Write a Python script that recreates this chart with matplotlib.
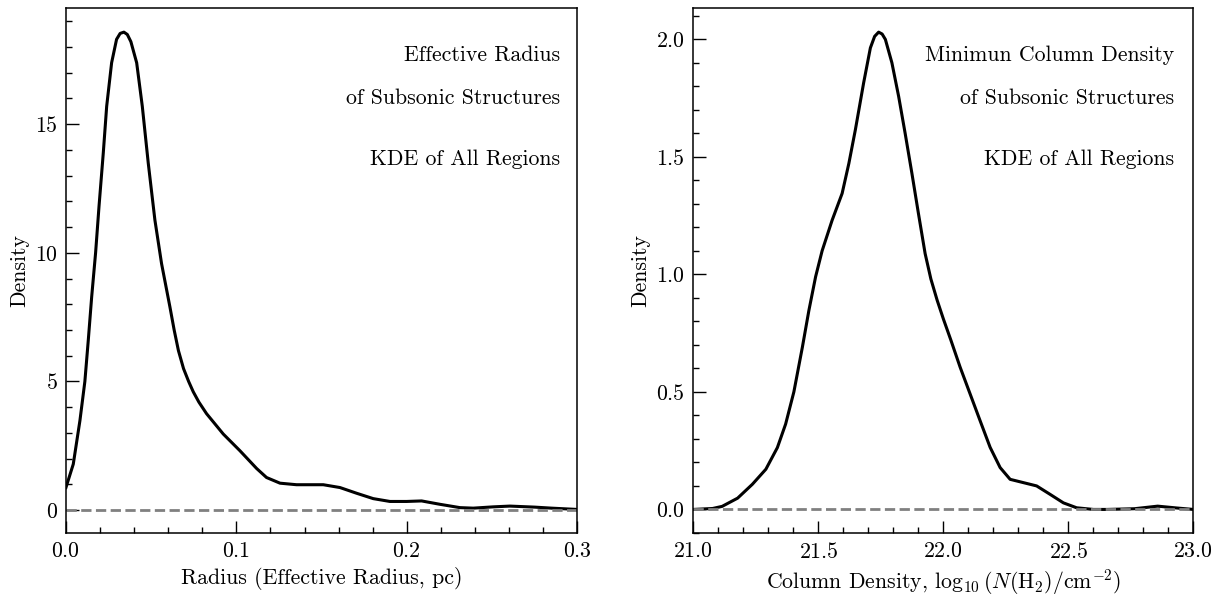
import matplotlib
matplotlib.use("Agg")
import matplotlib.pyplot as plt
from matplotlib.ticker import MultipleLocator

plt.rcParams["font.family"] = "serif"
plt.rcParams["font.serif"] = ["cmr10", "DejaVu Serif"]
plt.rcParams["mathtext.fontset"] = "cm"
plt.rcParams["axes.unicode_minus"] = False
plt.rcParams["axes.formatter.use_mathtext"] = True
plt.rcParams["font.size"] = 15.7

# KDE curve (effective radius, pc)
radius = [0.0, 0.0043, 0.0082, 0.0111, 0.0131, 0.0151, 0.0174, 0.0194, 0.0219, 0.0239,
          0.0268, 0.0297, 0.0318, 0.034, 0.036, 0.0381, 0.0415, 0.0448, 0.0483, 0.0522,
          0.0561, 0.061, 0.0635, 0.066, 0.069, 0.072, 0.0747, 0.078, 0.0825, 0.0923,
          0.1021, 0.1119, 0.1177, 0.1256, 0.1353, 0.151, 0.1608, 0.1705, 0.1803, 0.1901,
          0.1999, 0.2087, 0.2194, 0.2312, 0.239, 0.2507, 0.2605, 0.275, 0.285, 0.3]
radius_density = [0.88, 1.79, 3.48, 5.0, 6.6, 8.29, 10.0, 11.8, 13.87, 15.69,
                  17.38, 18.29, 18.52, 18.57, 18.48, 18.2, 17.38, 15.69, 13.48, 11.27,
                  9.58, 7.9, 7.0, 6.2, 5.5, 5.0, 4.6, 4.2, 3.75, 2.96,
                  2.31, 1.62, 1.27, 1.05, 0.99, 0.99, 0.88, 0.66, 0.45, 0.34,
                  0.34, 0.36, 0.23, 0.10, 0.08, 0.13, 0.16, 0.12, 0.08, 0.03]

# KDE curve (log10 column density)
coldens = [21.0, 21.077, 21.115, 21.177, 21.236, 21.29, 21.336, 21.369, 21.402, 21.436,
           21.462, 21.489, 21.515, 21.555, 21.595, 21.622, 21.648, 21.681, 21.708, 21.725,
           21.741, 21.755, 21.768, 21.794, 21.821, 21.847, 21.874, 21.9, 21.927, 21.95,
           21.975, 22.0, 22.03, 22.067, 22.107, 22.147, 22.187, 22.227, 22.267, 22.32,
           22.373, 22.427, 22.48, 22.533, 22.6, 22.655, 22.764, 22.857, 22.935, 23.0]
coldens_density = [0.0, 0.004, 0.013, 0.048, 0.107, 0.171, 0.263, 0.363, 0.5, 0.69,
                   0.846, 0.99, 1.1, 1.23, 1.344, 1.472, 1.615, 1.814, 1.963, 2.012,
                   2.03, 2.022, 1.999, 1.9, 1.757, 1.6, 1.43, 1.26, 1.088, 0.98,
                   0.89, 0.81, 0.72, 0.605, 0.491, 0.377, 0.264, 0.178, 0.128, 0.114,
                   0.1, 0.064, 0.028, 0.007, 0.0, 0.0, 0.003, 0.014, 0.006, 0.0]

labels_left = ["Effective Radius", "of Subsonic Structures", "KDE of All Regions"]
labels_right = ["Minimun Column Density", "of Subsonic Structures", "KDE of All Regions"]

fig = plt.figure(figsize=(12.19, 5.95), dpi=100)
ax1 = fig.add_axes([0.0541, 0.1037, 0.4194, 0.8824])
ax2 = fig.add_axes([0.5688, 0.1037, 0.4102, 0.8824])


def style(ax, xmaj, xmin, ymaj, ymin):
    ax.xaxis.set_major_locator(MultipleLocator(xmaj))
    ax.xaxis.set_minor_locator(MultipleLocator(xmin))
    ax.yaxis.set_major_locator(MultipleLocator(ymaj))
    ax.yaxis.set_minor_locator(MultipleLocator(ymin))
    ax.tick_params(which="both", direction="in", top=False, right=False, width=1.0)
    ax.tick_params(which="major", length=9, pad=6)
    ax.tick_params(which="minor", length=4.5)
    for s in ax.spines.values():
        s.set_linewidth(1.1)


ax1.plot(radius, radius_density, color="black", lw=2.2)
ax1.axhline(0, color="gray", ls="--", lw=2)
ax1.set_xlim(0, 0.3)
ax1.set_xlabel("Radius (Effective Radius, pc)")
ax1.set_ylabel("Density")
style(ax1, 0.1, 0.02, 5, 1)

ax2.plot(coldens, coldens_density, color="black", lw=2.2)
ax2.axhline(0, color="gray", ls="--", lw=2)
ax2.set_xlim(21, 23)
ax2.set_xlabel(r"Column Density, $\log_{10}(N(\mathrm{H}_2)/\mathrm{cm}^{-2})$")
ax2.set_ylabel("Density")
style(ax2, 0.5, 0.1, 0.5, 0.1)

for ax, labels, xr in [(ax1, labels_left, 0.966), (ax2, labels_right, 0.961)]:
    for lab, yy in zip(labels, [0.911, 0.829, 0.713]):
        ax.text(xr, yy, lab, transform=ax.transAxes, ha="right", va="center")

fig.savefig("out.png", dpi=100)
